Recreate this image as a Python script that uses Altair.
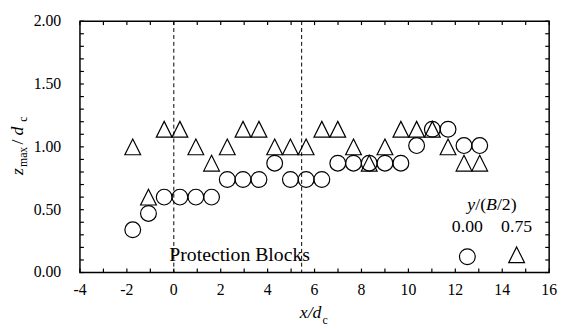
import altair as alt
import pandas as pd

# ---- data ----
x_pos = [-1.75, -1.08, -0.41, 0.26, 0.94, 1.61, 2.28, 2.95, 3.63, 4.30, 4.97, 5.64,
         6.31, 6.99, 7.66, 8.33, 9.00, 9.68, 10.35, 11.02, 11.69, 12.37, 13.04]
z_center = [0.34, 0.47, 0.60, 0.60, 0.60, 0.60, 0.74, 0.74, 0.74, 0.87, 0.74, 0.74,
            0.74, 0.87, 0.87, 0.87, 0.87, 0.87, 1.01, 1.14, 1.14, 1.01, 1.01]   # y/(B/2)=0.00
z_side = [1.00, 0.60, 1.14, 1.14, 1.00, 0.87, 1.00, 1.14, 1.14, 1.00, 1.00, 1.00,
          1.14, 1.14, 1.00, 0.87, 1.00, 1.14, 1.14, 1.14, 1.00, 0.87, 0.87]     # y/(B/2)=0.75
block_edges = [0.0, 5.45]
x_label_ticks = [-4, -2, 0, 2, 4, 6, 8, 10, 12, 14, 16]
x_label_text = ["-4", "-2", "0", "2", "4", "6", "8", "10", "12", "14", "16"]
x_minor_ticks = [-4, -3, -2, -1, 0, 1, 2, 3, 4, 5, 6, 7, 8, 9, 10, 11, 12, 13, 14, 15, 16]
y_label_ticks = [0.0, 0.5, 1.0, 1.5, 2.0]
y_label_text = ["0.00", "0.50", "1.00", "1.50", "2.00"]
y_minor_ticks = [0.0, 0.1, 0.2, 0.3, 0.4, 0.5, 0.6, 0.7, 0.8, 0.9, 1.0,
                 1.1, 1.2, 1.3, 1.4, 1.5, 1.6, 1.7, 1.8, 1.9, 2.0]
legend_labels = ["0.00", "0.75"]

W, H = 476, 255
SERIF = "Liberation Serif"
TRI = "M0,-1L1,1L-1,1Z"

df_c = pd.DataFrame({"x": x_pos, "z": z_center})
df_t = pd.DataFrame({"x": x_pos, "z": z_side})
df_edges = pd.DataFrame({"x": block_edges})
df_xt = pd.DataFrame({"x": x_minor_ticks})
df_yt = pd.DataFrame({"y": y_minor_ticks})
df_xl = pd.DataFrame({"x": x_label_ticks, "t": x_label_text})
df_yl = pd.DataFrame({"y": y_label_ticks, "t": y_label_text})
one = pd.DataFrame({"a": [0]})

xscale = alt.Scale(domain=[-4, 16], nice=False, zero=False)
yscale = alt.Scale(domain=[0, 2], nice=False, zero=False)


def X(field):
    return alt.X(field, scale=xscale, axis=None)


def Y(field):
    return alt.Y(field, scale=yscale, axis=None)


circles = alt.Chart(df_c).mark_point(shape="circle", size=256, filled=False,
                                     stroke="black", strokeWidth=1.2, opacity=1).encode(
    x=X("x:Q"), y=Y("z:Q"))
triangles = alt.Chart(df_t).mark_point(shape=TRI, size=256, filled=False,
                                       stroke="black", strokeWidth=1.2, opacity=1).encode(
    x=X("x:Q"), y=Y("z:Q"))

edges = alt.Chart(df_edges).mark_rule(color="black", strokeWidth=1, strokeDash=[4, 3]).encode(
    x=X("x:Q"), y=alt.value(0), y2=alt.value(H))

tick_len = 4
ticks_bottom = alt.Chart(df_xt).mark_rule(color="black", strokeWidth=1.2).encode(
    x=X("x:Q"), y=alt.value(H), y2=alt.value(H - tick_len))
ticks_top = alt.Chart(df_xt).mark_rule(color="black", strokeWidth=1.2).encode(
    x=X("x:Q"), y=alt.value(0), y2=alt.value(tick_len))
ticks_left = alt.Chart(df_yt).mark_rule(color="black", strokeWidth=1.2).encode(
    y=Y("y:Q"), x=alt.value(0), x2=alt.value(tick_len))
ticks_right = alt.Chart(df_yt).mark_rule(color="black", strokeWidth=1.2).encode(
    y=Y("y:Q"), x=alt.value(W), x2=alt.value(W - tick_len))

x_labels = alt.Chart(df_xl).mark_text(font=SERIF, fontSize=16, color="black", align="center",
                                      baseline="alphabetic").encode(
    x=X("x:Q"), y=alt.value(H + 23), text="t:N")
y_labels = alt.Chart(df_yl).mark_text(font=SERIF, fontSize=16, color="black", align="right",
                                      baseline="middle").encode(
    y=Y("y:Q"), x=alt.value(-19), text="t:N")


def txt(text, x, y, size, italic=False, align="left", angle=0, baseline="alphabetic"):
    kw = dict(text=text, font=SERIF, fontSize=size, color="black", align=align,
              baseline=baseline)
    if italic:
        kw["fontStyle"] = "italic"
    if angle:
        kw["angle"] = angle
    return alt.Chart(one).mark_text(**kw).encode(x=alt.value(x), y=alt.value(y))


annotations = [
    txt("Protection Blocks", 162, 243, 20, align="center"),
    # x-axis title  x/d_c
    txt("x/d", 245, 301, 18, italic=True, align="right"),
    txt("c", 246, 307, 12),
    # y-axis title  z_max/d_c (rotated)
    txt("z", -58, 156, 18, italic=True, angle=270),
    txt("max", -54, 148, 12, angle=270),
    txt("/", -58, 125, 18, angle=270),
    txt("d", -58, 116, 18, italic=True, angle=270),
    txt("c", -54, 102, 12, angle=270),
    # legend
    txt("y", 393, 192, 18, italic=True),
    txt("/(", 401, 192, 18),
    txt("B", 412, 192, 18, italic=True),
    txt("/2)", 423, 192, 18),
    txt(legend_labels[0], 393, 214, 18, align="center"),
    txt(legend_labels[1], 443, 214, 18, align="center"),
]

leg_c = alt.Chart(one).mark_point(shape="circle", size=256, filled=False, stroke="black",
                                  strokeWidth=1.2, opacity=1).encode(
    x=alt.value(393), y=alt.value(239))
leg_t = alt.Chart(one).mark_point(shape=TRI, size=256, filled=False, stroke="black",
                                  strokeWidth=1.2, opacity=1).encode(
    x=alt.value(443), y=alt.value(237))

chart = alt.layer(
    edges, ticks_bottom, ticks_top, ticks_left, ticks_right, x_labels, y_labels,
    triangles, circles, *annotations, leg_c, leg_t,
).properties(
    width=W, height=H,
    autosize=alt.AutoSizeParams(type="none"),
    padding={"left": 73, "top": 11, "right": 11, "bottom": 60},
).configure_view(
    stroke="black", strokeWidth=1.5
)

chart.save("out.html", embed_options={"renderer": "svg", "actions": False})
